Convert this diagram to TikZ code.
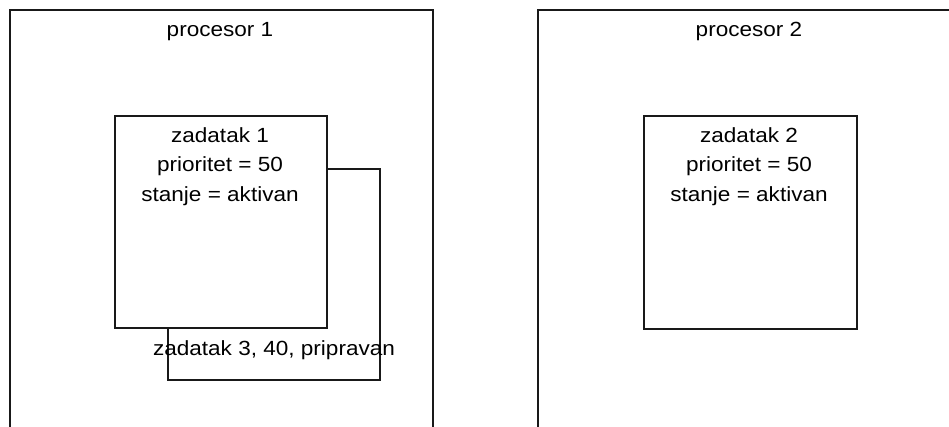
\documentclass[tikz,border=0pt]{standalone}
\usepackage{fontspec}
\setmainfont[FakeStretch=1.1]{Liberation Sans}
\begin{document}
\begin{tikzpicture}[x=1pt,y=1pt,
  box/.style={draw=black!90,line width=1.8pt,fill=white,inner sep=0pt,anchor=north west},
  lbl/.style={inner sep=0pt,font=\fontsize{20.5}{30}\selectfont,align=center}]
\useasboundingbox (0,0) rectangle (949,-427);
\clip (0,0) rectangle (949,-427);
% processors
\node[box,minimum width=423pt,minimum height=440pt] (p1) at (9,-9) {};
\node[box,minimum width=440pt,minimum height=440pt] (p2) at (537,-9) {};
\node[lbl,anchor=base] (p1t) at (220,-37) {procesor 1};
\node[lbl,anchor=base] (p2t) at (749,-37) {procesor 2};
% task 3 (behind task 1)
\node[box,minimum width=212pt,minimum height=211pt] (z3) at (167,-168) {};
% task 1
\node[box,minimum width=212pt,minimum height=212pt] (z1) at (114,-115) {};
\node[lbl,anchor=base] (z1a) at (220,-143) {zadatak 1};
\node[lbl,anchor=base] (z1b) at (220,-172) {prioritet = 50};
\node[lbl,anchor=base] (z1c) at (220,-202) {stanje = aktivan};
\node[lbl,anchor=base] (z3t) at (274,-355) {zadatak 3, 40, pripravan};
% task 2
\node[box,minimum width=213pt,minimum height=213pt] (z2) at (643,-115) {};
\node[lbl,anchor=base] (z2a) at (749,-143) {zadatak 2};
\node[lbl,anchor=base] (z2b) at (749,-172) {prioritet = 50};
\node[lbl,anchor=base] (z2c) at (749,-202) {stanje = aktivan};
\end{tikzpicture}
\end{document}
